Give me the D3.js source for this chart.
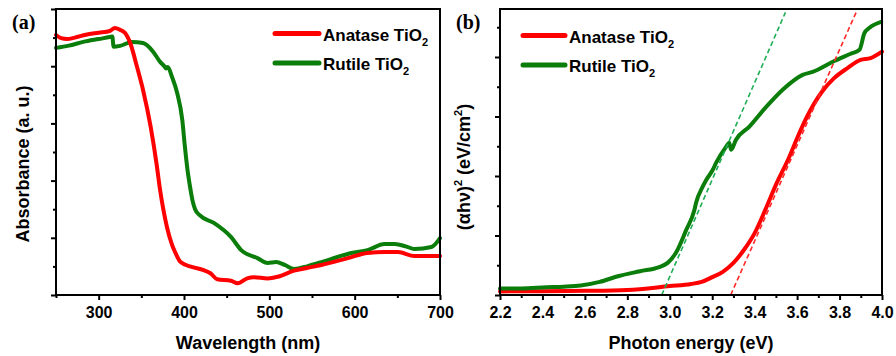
<!DOCTYPE html>
<html>
<head>
<meta charset="utf-8">
<script src="https://cdn.jsdelivr.net/npm/d3@7"></script>
<style>
    body { margin: 0; background: #fff; }
    svg { display: block; font-family: "Liberation Sans", Arial, sans-serif; }
    .tick text { font-weight: bold; font-size: 16px; fill: #000; }
    .axis-title { font-weight: bold; font-size: 18px; }
    .legend-text { font-weight: bold; font-size: 17px; }
    .panel-label { font-family: "Liberation Serif", "Times New Roman", serif; font-weight: bold; font-size: 20px; }
</style>
</head>
<body>
<div id="chart"></div>
<script>
// (a) absorbance spectra
const wavelengthAnatase = [250, 256, 263, 272, 285, 300, 313, 319, 325, 331, 337, 345, 352, 361, 368, 372, 380, 386, 390, 396, 408, 423, 431, 439, 455, 463, 474, 482, 498, 510, 529, 545, 561, 592, 615, 635, 651, 670, 700];
const absorbanceAnatase = [0.909, 0.898, 0.895, 0.900, 0.910, 0.917, 0.923, 0.934, 0.927, 0.916, 0.881, 0.797, 0.717, 0.587, 0.455, 0.367, 0.238, 0.175, 0.147, 0.115, 0.099, 0.087, 0.076, 0.055, 0.050, 0.041, 0.058, 0.062, 0.058, 0.064, 0.085, 0.095, 0.105, 0.129, 0.147, 0.150, 0.150, 0.136, 0.136];

const wavelengthRutile = [250, 265, 282, 300, 313, 316, 317.5, 325, 339, 352, 364, 372, 377, 379, 381, 386, 392, 398, 401, 404, 407, 410, 413, 418, 435, 455, 467, 486, 498, 508, 518, 529, 545, 561, 580, 596, 615, 635, 647, 660, 670, 690, 700];
const absorbanceRutile = [0.864, 0.872, 0.885, 0.895, 0.902, 0.904, 0.868, 0.871, 0.885, 0.881, 0.850, 0.815, 0.800, 0.792, 0.797, 0.762, 0.706, 0.612, 0.520, 0.440, 0.380, 0.330, 0.300, 0.280, 0.252, 0.203, 0.157, 0.129, 0.112, 0.115, 0.105, 0.091, 0.101, 0.115, 0.133, 0.147, 0.157, 0.178, 0.178, 0.170, 0.161, 0.168, 0.199];

// (b) Tauc plots
const energyAnatase = [2.2, 2.4, 2.6, 2.8, 3.0, 3.1, 3.15, 3.2, 3.25, 3.3, 3.35, 3.4, 3.45, 3.5, 3.563, 3.603, 3.647, 3.718, 3.773, 3.836, 3.899, 3.946, 4.0];
const taucAnatase = [0.06, 0.065, 0.07, 0.085, 0.15, 0.185, 0.22, 0.30, 0.39, 0.54, 0.76, 1.04, 1.43, 1.85, 2.32, 2.66, 3.0, 3.42, 3.64, 3.81, 3.95, 3.98, 4.09];

const energyRutile = [2.2, 2.3, 2.42, 2.5, 2.58, 2.67, 2.76, 2.86, 2.95, 2.99, 3.029, 3.077, 3.116, 3.124, 3.155, 3.171, 3.202, 3.218, 3.265, 3.28, 3.289, 3.312, 3.375, 3.454, 3.532, 3.626, 3.673, 3.768, 3.85, 3.894, 3.917, 3.941, 3.996];
const taucRutile = [0.11, 0.11, 0.13, 0.14, 0.16, 0.22, 0.32, 0.40, 0.47, 0.54, 0.71, 1.09, 1.43, 1.55, 1.82, 1.93, 2.10, 2.22, 2.49, 2.56, 2.44, 2.61, 2.83, 3.16, 3.45, 3.70, 3.75, 3.92, 4.05, 4.12, 4.40, 4.49, 4.59];

// band-gap tangent lines
const tangentAnataseE = [3.287, 3.878];
const tangentAnataseY = [0, 4.75];
const tangentRutileE = [2.962, 3.545];
const tangentRutileY = [0, 4.75];

const wavelengthTicks = [300, 400, 500, 600, 700];
const energyTicks = [2.2, 2.4, 2.6, 2.8, 3.0, 3.2, 3.4, 3.6, 3.8, 4.0];
const seriesNames = ["Anatase TiO", "Rutile TiO"];
const seriesColors = ["#ff0000", "#0a7d0a"];
const tangentColors = ["#ff2a2a", "#1fae55"];

const width = 896;
const height = 356;
const plotTop = 9;
const plotBottom = 295;

const svg = d3.select("#chart")
    .append("svg")
    .attr("width", width)
    .attr("height", height);

const toPoints = (xs, ys) => xs.map((x, i) => [x, ys[i]]);

const drawPanel = (cfg) => {
    const xScale = d3.scaleLinear().domain(cfg.xDomain).range([cfg.left, cfg.right]);
    const yScale = d3.scaleLinear().domain(cfg.yDomain).range([plotBottom, plotTop]);

    // minor x ticks
    svg.append("g")
        .attr("transform", `translate(0, ${plotBottom})`)
        .call(d3.axisBottom(xScale).tickValues(cfg.xMinor).tickSize(3).tickFormat(""))
        .call(g => g.select(".domain").remove())
        .call(g => g.selectAll("line").attr("stroke-width", 2));

    // major x ticks + labels
    svg.append("g")
        .attr("transform", `translate(0, ${plotBottom})`)
        .call(d3.axisBottom(xScale).tickValues(cfg.xMajor).tickSize(5).tickFormat(cfg.xFormat))
        .call(g => g.select(".domain").remove())
        .call(g => g.selectAll("line").attr("stroke-width", 2))
        .call(g => g.selectAll("text").attr("y", 23).attr("dy", 0));

    svg.append("g")
        .attr("transform", `translate(${cfg.left}, 0)`)
        .call(d3.axisLeft(yScale).tickValues(cfg.yMinor).tickSize(3).tickFormat(""))
        .call(g => g.select(".domain").remove())
        .call(g => g.selectAll("line").attr("stroke-width", 2));

    svg.append("g")
        .attr("transform", `translate(${cfg.left}, 0)`)
        .call(d3.axisLeft(yScale).tickValues(cfg.yMajor).tickSize(5).tickFormat(""))
        .call(g => g.select(".domain").remove())
        .call(g => g.selectAll("line").attr("stroke-width", 2));

    const line = d3.line()
        .x(d => xScale(d[0]))
        .y(d => yScale(d[1]))
        .curve(d3.curveMonotoneX);

    cfg.series.forEach((s, i) => {
        svg.append("path")
            .datum(toPoints(s.x, s.y))
            .attr("fill", "none")
            .attr("stroke", s.color)
            .attr("stroke-width", 4)
            .attr("stroke-linejoin", "round")
            .attr("stroke-linecap", "round")
            .attr("d", line);
    });

    (cfg.tangents || []).forEach(t => {
        svg.append("path")
            .datum(toPoints(t.x, t.y))
            .attr("fill", "none")
            .attr("stroke", t.color)
            .attr("stroke-width", 1.6)
            .attr("stroke-dasharray", "5,3")
            .attr("d", d3.line().x(d => xScale(d[0])).y(d => yScale(d[1])));
    });

    svg.append("rect")
        .attr("x", cfg.left)
        .attr("y", plotTop)
        .attr("width", cfg.right - cfg.left)
        .attr("height", plotBottom - plotTop)
        .attr("fill", "none")
        .attr("stroke", "#000")
        .attr("stroke-width", 2);

    // legend
    seriesNames.forEach((name, i) => {
        const ly = cfg.legendY[i];
        svg.append("line")
            .attr("x1", cfg.legendX[0])
            .attr("x2", cfg.legendX[1])
            .attr("y1", ly)
            .attr("y2", ly)
            .attr("stroke", seriesColors[i])
            .attr("stroke-width", 5)
            .attr("stroke-linecap", "round");
        const txt = svg.append("text")
            .attr("class", "legend-text")
            .attr("x", cfg.legendX[1] + 4)
            .attr("y", ly + 7.3);
        txt.append("tspan").text(name);
        txt.append("tspan").attr("font-size", 11).attr("dy", 5).text("2");
    });

    svg.append("text")
        .attr("class", "panel-label")
        .attr("x", cfg.left - 44)
        .attr("y", 29)
        .text(cfg.label);

    svg.append("text")
        .attr("class", "axis-title")
        .attr("x", (cfg.left + cfg.right) / 2)
        .attr("y", 349)
        .attr("text-anchor", "middle")
        .text(cfg.xTitle);
};

drawPanel({
    left: 56, right: 440,
    xDomain: [250, 700], yDomain: [0, 1],
    xMajor: wavelengthTicks,
    xMinor: [250, 350, 450, 550, 650],
    xFormat: d3.format("d"),
    yMajor: [0, 0.2, 0.4, 0.6, 0.8, 1.0],
    yMinor: [0.1, 0.3, 0.5, 0.7, 0.9],
    series: [
        { x: wavelengthRutile, y: absorbanceRutile, color: seriesColors[1] },
        { x: wavelengthAnatase, y: absorbanceAnatase, color: seriesColors[0] }
    ],
    legendX: [275, 319],
    legendY: [33.5, 63],
    label: "(a)",
    xTitle: "Wavelength (nm)"
});

drawPanel({
    left: 500, right: 882,
    xDomain: [2.2, 4.0], yDomain: [0, 286 / 59.5],
    xMajor: energyTicks,
    xMinor: [2.3, 2.5, 2.7, 2.9, 3.1, 3.3, 3.5, 3.7, 3.9],
    xFormat: d3.format(".1f"),
    yMajor: [0, 1, 2, 3, 4],
    yMinor: [0.5, 1.5, 2.5, 3.5, 4.5],
    series: [
        { x: energyAnatase, y: taucAnatase, color: seriesColors[0] },
        { x: energyRutile, y: taucRutile, color: seriesColors[1] }
    ],
    tangents: [
        { x: tangentRutileE, y: tangentRutileY, color: tangentColors[1] },
        { x: tangentAnataseE, y: tangentAnataseY, color: tangentColors[0] }
    ],
    legendX: [523, 565],
    legendY: [35.5, 65],
    label: "(b)",
    xTitle: "Photon energy (eV)"
});

// y titles
svg.append("text")
    .attr("class", "axis-title")
    .attr("transform", "translate(29, 164) rotate(-90)")
    .attr("text-anchor", "middle")
    .text("Absorbance (a. u.)");

const yTitleB = svg.append("text")
    .attr("class", "axis-title")
    .attr("transform", "translate(470, 167) rotate(-90)")
    .attr("text-anchor", "middle");
yTitleB.append("tspan").text("(αhν)");
yTitleB.append("tspan").attr("font-size", 11).attr("dy", -8).text("2");
yTitleB.append("tspan").attr("dy", 8).text(" (eV/cm");
yTitleB.append("tspan").attr("font-size", 11).attr("dy", -8).text("2");
yTitleB.append("tspan").attr("dy", 8).text(")");
</script>
</body>
</html>
